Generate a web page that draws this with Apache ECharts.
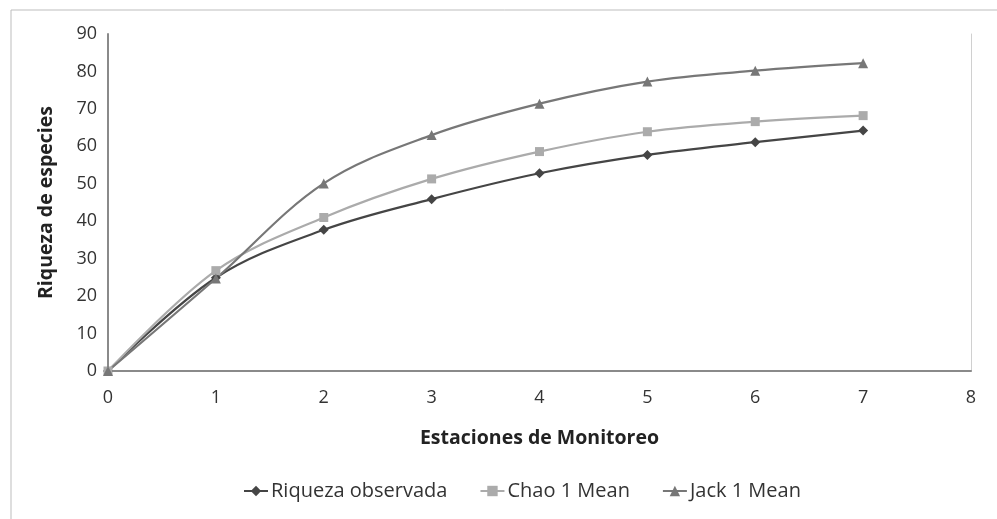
<!DOCTYPE html>
<html><head><meta charset="utf-8">
<script src="https://cdn.jsdelivr.net/npm/echarts@6/dist/echarts.min.js"></script>
<style>html,body{margin:0;padding:0;background:#fff}#c{width:997px;height:519px}</style>
</head><body><div id="c"></div>
<script>
const stations = [0, 1, 2, 3, 4, 5, 6, 7];
const riquezaObservada = [0, 24.9, 37.7, 45.9, 52.8, 57.7, 61.1, 64.2];
const chao1Mean = [0, 26.8, 41.0, 51.3, 58.6, 63.9, 66.6, 68.2];
const jack1Mean = [0, 24.7, 50.1, 63.0, 71.4, 77.3, 80.2, 82.2];
const seriesNames = ['Riqueza observada', 'Chao 1 Mean', 'Jack 1 Mean'];
const font = 'Open Sans';

const pairs = arr => stations.map((x, i) => [x, arr[i]]);
const chart = echarts.init(document.getElementById('c'));
const mk = (name, data, color, symbol, size, width) => ({
  name, type: 'line', data: pairs(data), smooth: 0.35,
  symbol, symbolSize: size, showSymbol: true,
  lineStyle: { color, width }, itemStyle: { color },
  z: 3
});
chart.setOption({
  animation: false,
  textStyle: { fontFamily: font },
  graphic: [{ type: 'rect', shape: { x: 11, y: 10, width: 1000, height: 600 },
    style: { fill: 'none', stroke: '#bdbdbd', lineWidth: 1 }, silent: true }],
  grid: { left: 108, right: 26, top: 34, bottom: 148, containLabel: false },
  xAxis: {
    type: 'value', min: 0, max: 8, interval: 1,
    name: 'Estaciones de Monitoreo', nameLocation: 'middle', nameGap: 57,
    nameTextStyle: { fontFamily: font, fontSize: 19.5, fontWeight: 'bold', color: '#222' },
    axisLine: { show: true, lineStyle: { color: '#8a8a8a', width: 2 } },
    axisTick: { show: false },
    axisLabel: { fontFamily: font, fontSize: 18, color: '#333', margin: 18 },
    splitLine: { show: false }
  },
  yAxis: [{
    type: 'value', min: 0, max: 90, interval: 10,
    name: 'Riqueza de especies', nameLocation: 'middle', nameGap: 52,
    nameTextStyle: { fontFamily: font, fontSize: 19.5, fontWeight: 'bold', color: '#222' },
    axisLine: { show: true, lineStyle: { color: '#8a8a8a', width: 2 } },
    axisTick: { show: false },
    axisLabel: { fontFamily: font, fontSize: 18, color: '#333', margin: 11 },
    splitLine: { show: false }
  }, {
    type: 'value', min: 0, max: 90, position: 'right',
    axisLine: { show: true, lineStyle: { color: '#d0d0d0', width: 1 } },
    axisTick: { show: false }, axisLabel: { show: false }, splitLine: { show: false }
  }],
  legend: {
    bottom: 13, left: 238, itemGap: 32, itemWidth: 24, itemHeight: 13,
    textStyle: { fontFamily: font, fontSize: 20, color: '#333', padding: [0, 0, 0, -2] },
    data: seriesNames
  },
  series: [
    mk(seriesNames[0], riquezaObservada, '#454545', 'diamond', 10, 2.2),
    mk(seriesNames[1], chao1Mean, '#ababab', 'rect', 9, 2.2),
    mk(seriesNames[2], jack1Mean, '#777777', 'triangle', 10, 2.2)
  ]
});
</script></body></html>
